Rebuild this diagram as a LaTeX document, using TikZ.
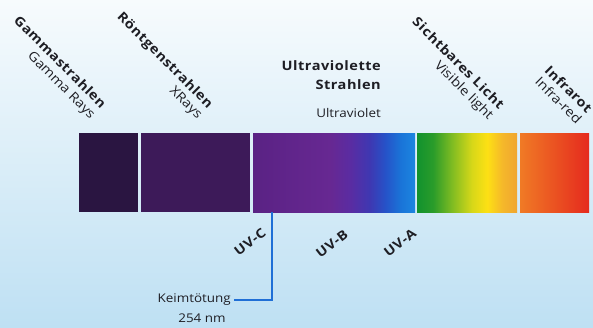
\documentclass[tikz,border=0pt]{standalone}
\usepackage{fontspec}
\setmainfont{Open Sans}[FakeStretch=1.12, BoldFeatures={LetterSpace=4}]
\usetikzlibrary{positioning,calc}

\definecolor{ink}{HTML}{1E1E24}
\definecolor{bgtop}{HTML}{F7FBFD}
\definecolor{bgbot}{HTML}{BEE0F3}
\definecolor{gammacol}{HTML}{2A1541}
\definecolor{xraycol}{HTML}{3D1A59}
\definecolor{uv0}{HTML}{5A2284}
\definecolor{uv1}{HTML}{672892}
\definecolor{uv2}{HTML}{5A2CA2}
\definecolor{uv3}{HTML}{3E38B2}
\definecolor{uv4}{HTML}{2652C8}
\definecolor{uv5}{HTML}{1A74D8}
\definecolor{uv6}{HTML}{1C86E0}
\definecolor{vis0}{HTML}{12922E}
\definecolor{vis1}{HTML}{2A9C2A}
\definecolor{vis2}{HTML}{80BC22}
\definecolor{vis3}{HTML}{D8D818}
\definecolor{vis4}{HTML}{FDE014}
\definecolor{vis5}{HTML}{F5B82A}
\definecolor{vis6}{HTML}{F0A530}
\definecolor{ir0}{HTML}{F07A25}
\definecolor{ir1}{HTML}{E52A1E}
\definecolor{germblue}{HTML}{1F6FD6}

\pgfdeclarehorizontalshading{uvshade}{100bp}{color(0bp)=(uv0); color(25bp)=(uv0);
  color(48.75bp)=(uv1); color(55bp)=(uv2); color(61bp)=(uv3); color(65.75bp)=(uv4);
  color(70.5bp)=(uv5); color(75bp)=(uv6); color(100bp)=(uv6)}
\pgfdeclarehorizontalshading{visshade}{100bp}{color(0bp)=(vis0); color(25bp)=(vis0);
  color(33bp)=(vis1); color(42.5bp)=(vis2); color(52.5bp)=(vis3); color(60bp)=(vis4);
  color(67.5bp)=(vis5); color(75bp)=(vis6); color(100bp)=(vis6)}

\begin{document}
\begin{tikzpicture}[x=1pt, y=-1pt,
    seg/.style={rectangle, inner sep=0pt, minimum height=79pt, anchor=north west},
    band/.style={font=\fontsize{13}{15}\selectfont\bfseries, text=ink, inner sep=0pt,
                 align=right, anchor=east, rotate=-45},
    uvtag/.style={font=\fontsize{13}{15}\selectfont\bfseries, text=ink, inner sep=0pt, rotate=38},
    note/.style={font=\fontsize{12}{14}\selectfont, text=ink, inner sep=0pt},
    germline/.style={draw=germblue, line width=1.6pt}]

\fill[top color=bgtop, bottom color=bgbot] (0,0) rectangle (593,327);
\useasboundingbox (0,0) rectangle (593,327);

% spectrum bar
\node[seg, minimum width=59pt, fill=gammacol] (gamma) at (79,133) {};
\node[seg, minimum width=109pt, fill=xraycol] (xray) at (141,133) {};
\node[seg, minimum width=162pt, shading=uvshade] (uv) at (253,133) {};
\node[seg, minimum width=100pt, shading=visshade] (vis) at (417,133) {};
\node[seg, minimum width=69pt, left color=ir0, right color=ir1] (ir) at (520,133) {};

% band names
\node[band] (gammalbl) at (98,112) {Gammastrahlen\\\mdseries Gamma Rays};
\node[band] (xraylbl) at (205,112) {Röntgenstrahlen\\\mdseries XRays};
\node[band] (vislbl) at (496,113) {Sichtbares Licht\\\mdseries Visible light};
\node[band] (irlbl) at (585,116) {Infrarot\\\mdseries Infra-red};
\node[note, font=\fontsize{13}{19}\selectfont\bfseries, align=right, anchor=east] (uvlbl) at (381,75) {Ultraviolette\\Strahlen};
\node[note, anchor=east] (uvsub) at (381,113) {Ultraviolet};

% UV ranges
\node[uvtag] (uvc) at (250,242) {UV-C};
\node[uvtag] (uvb) at (332,244) {UV-B};
\node[uvtag] (uva) at (400,243) {UV-A};

% germicidal line
\coordinate (germ) at (272,212);
\node[note, anchor=east, inner sep=3pt] (keim) at (234,300) {Keimtötung};
\node[note] (nm) at (202,318) {254 nm};
\draw[germline] (germ) |- (keim);
\end{tikzpicture}
\end{document}
